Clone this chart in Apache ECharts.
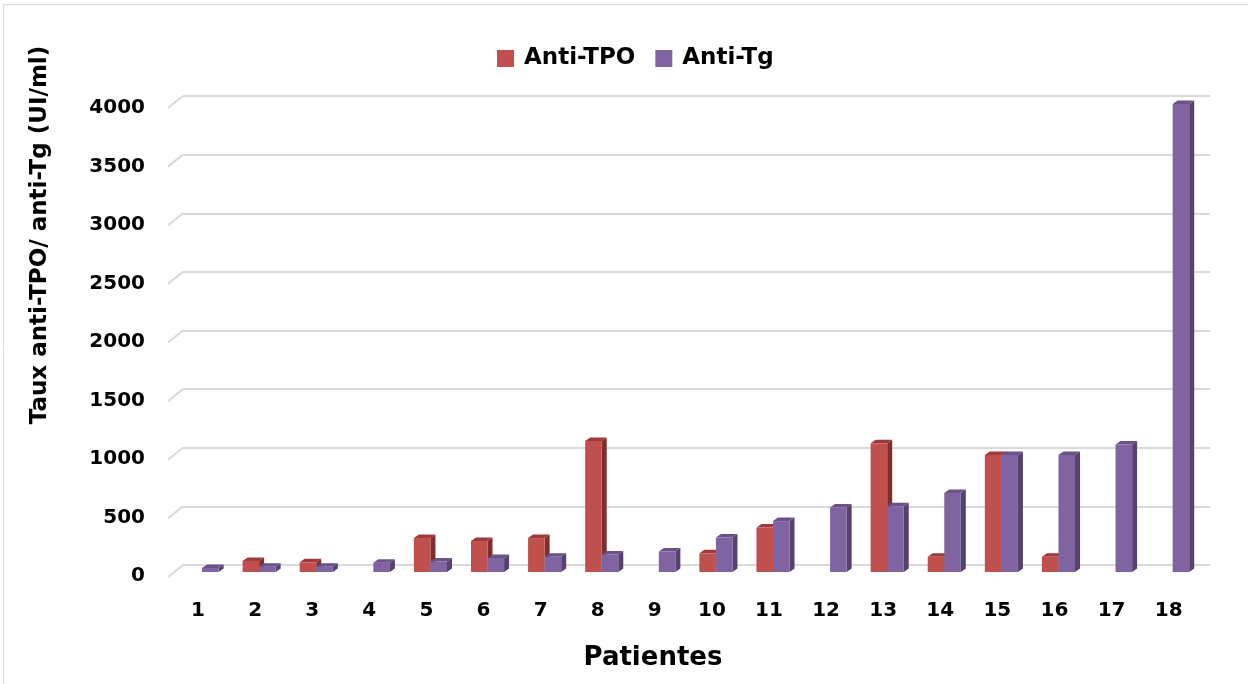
<!DOCTYPE html>
<html>
<head>
<meta charset="utf-8">
<script src="https://cdn.jsdelivr.net/npm/echarts@6/dist/echarts.min.js"></script>
<style>html,body{margin:0;padding:0;background:#fff}#c{width:1248px;height:684px}</style>
</head>
<body>
<div id="c"></div>
<script>
const categories = ['1','2','3','4','5','6','7','8','9','10','11','12','13','14','15','16','17','18'];
const antiTPO = [null, 95, 83, null, 290, 265, 290, 1120, null, 160, 380, null, 1100, 130, 1000, 130, null, null];
const antiTg = [35, 45, 45, 80, 90, 120, 130, 150, 175, 295, 435, 552, 563, 676, 1000, 1000, 1090, 4000];
const yTicks = [0, 500, 1000, 1500, 2000, 2500, 3000, 3500, 4000];
const seriesNames = ['Anti-TPO', 'Anti-Tg'];

const FONT = 'DejaVu Sans';
const DX = 5, DY = 3.5;

function bar3d(side, colors) {
  return function (params, api) {
    const i = api.value(0), v = api.value(1);
    if (v == null || isNaN(v)) return null;
    const base = api.coord([i, 0]);
    const top = api.coord([i, v]);
    const band = api.size([1, 0])[0];
    const w = band * 0.29;
    const left = side < 0 ? base[0] - w : base[0];
    const right = left + w;
    const t = top[1], b = base[1];
    return {
      type: 'group',
      children: [
        {type: 'polygon', shape: {points: [[right, t], [right + DX, t - DY], [right + DX, b - DY], [right, b]]}, style: {fill: colors[2]}},
        {type: 'polygon', shape: {points: [[left, t], [right, t], [right + DX, t - DY], [left + DX, t - DY]]}, style: {fill: colors[1]}},
        {type: 'rect', shape: {x: left, y: t, width: w, height: b - t}, style: {fill: colors[0]}}
      ]
    };
  };
}

const chart = echarts.init(document.getElementById('c'), null, {renderer: 'canvas'});
chart.setOption({
  backgroundColor: '#ffffff',
  animation: false,
  textStyle: {fontFamily: FONT},
  legend: {
    data: seriesNames,
    left: 492, top: 42,
    icon: 'rect', itemWidth: 17, itemHeight: 17, itemGap: 20,
    textStyle: {fontFamily: FONT, fontWeight: 'bold', fontSize: 23, color: '#000', padding: [0, 0, 0, 5]}
  },
  graphic: [
    {type: 'rect', shape: {x: 3.5, y: 4.5, width: 1300, height: 700}, style: {fill: 'none', stroke: '#D9D9D9', lineWidth: 1}, z: -10},
    {type: 'text', x: 653, y: 658, style: {text: 'Patientes', font: 'bold 26px "DejaVu Sans"', fill: '#000', textAlign: 'center', textVerticalAlign: 'middle'}},
    {type: 'text', x: 40, y: 235, rotation: Math.PI / 2, style: {text: 'Taux anti-TPO/ anti-Tg (UI/ml)', font: 'bold 23px "DejaVu Sans"', fill: '#000', textAlign: 'center', textVerticalAlign: 'middle'}}
  ],
  grid: [
    {left: 183, right: 38, top: 96, bottom: 119, containLabel: false, outerBoundsMode: 'none'},
    {left: 168, right: 40, top: 108, bottom: 108, containLabel: false, outerBoundsMode: 'none'},
    {left: 173.5, right: 46.8, top: 104, bottom: 112, containLabel: false, outerBoundsMode: 'none'}
  ],
  xAxis: [
    {gridIndex: 0, type: 'value', min: 0, max: 1, show: false},
    {gridIndex: 1, type: 'value', min: 0, max: 1, show: false},
    {gridIndex: 2, type: 'category', data: categories,
      axisLine: {show: false}, axisTick: {show: false},
      axisLabel: {fontFamily: FONT, fontWeight: 'bold', fontSize: 20, color: '#000', margin: 29, padding: [0, 8, 0, 0]}}
  ],
  yAxis: [
    {gridIndex: 0, type: 'value', min: 0, max: 4000, interval: 500,
      axisLine: {show: false}, axisTick: {show: false}, axisLabel: {show: false},
      splitLine: {show: true, lineStyle: {color: '#D9D9D9', width: 2}}},
    {gridIndex: 1, type: 'value', min: 0, max: 4000, interval: 500,
      axisLine: {show: false}, axisTick: {show: false}, splitLine: {show: false},
      axisLabel: {fontFamily: FONT, fontWeight: 'bold', fontSize: 20, color: '#000', margin: 23,
        formatter: function (v) { return String(v); }}},
    {gridIndex: 2, type: 'value', min: 0, max: 4000, interval: 500, show: false}
  ],
  series: [
    {
      type: 'custom', name: 'wall', xAxisIndex: 0, yAxisIndex: 0, silent: true,
      data: yTicks.map(v => [0, v]),
      renderItem: function (params, api) {
        const p = api.coord([0, api.value(1)]);
        return {type: 'line', shape: {x1: p[0], y1: p[1], x2: p[0] - 15, y2: p[1] + 12}, style: {stroke: '#D9D9D9', lineWidth: 2}};
      },
      z: 1
    },
    {
      type: 'custom', name: seriesNames[0], xAxisIndex: 2, yAxisIndex: 2,
      itemStyle: {color: '#C0504D'},
      data: antiTPO.map((v, i) => [i, v == null ? NaN : v]),
      encode: {x: 0, y: 1},
      renderItem: bar3d(-1, ['#C0504D', '#9E3B38', '#7F2E2C']),
      z: 3
    },
    {
      type: 'custom', name: seriesNames[1], xAxisIndex: 2, yAxisIndex: 2,
      itemStyle: {color: '#8064A2'},
      data: antiTg.map((v, i) => [i, v == null ? NaN : v]),
      encode: {x: 0, y: 1},
      renderItem: bar3d(1, ['#8064A2', '#6A5189', '#56416F']),
      z: 4
    }
  ]
});
</script>
</body>
</html>
